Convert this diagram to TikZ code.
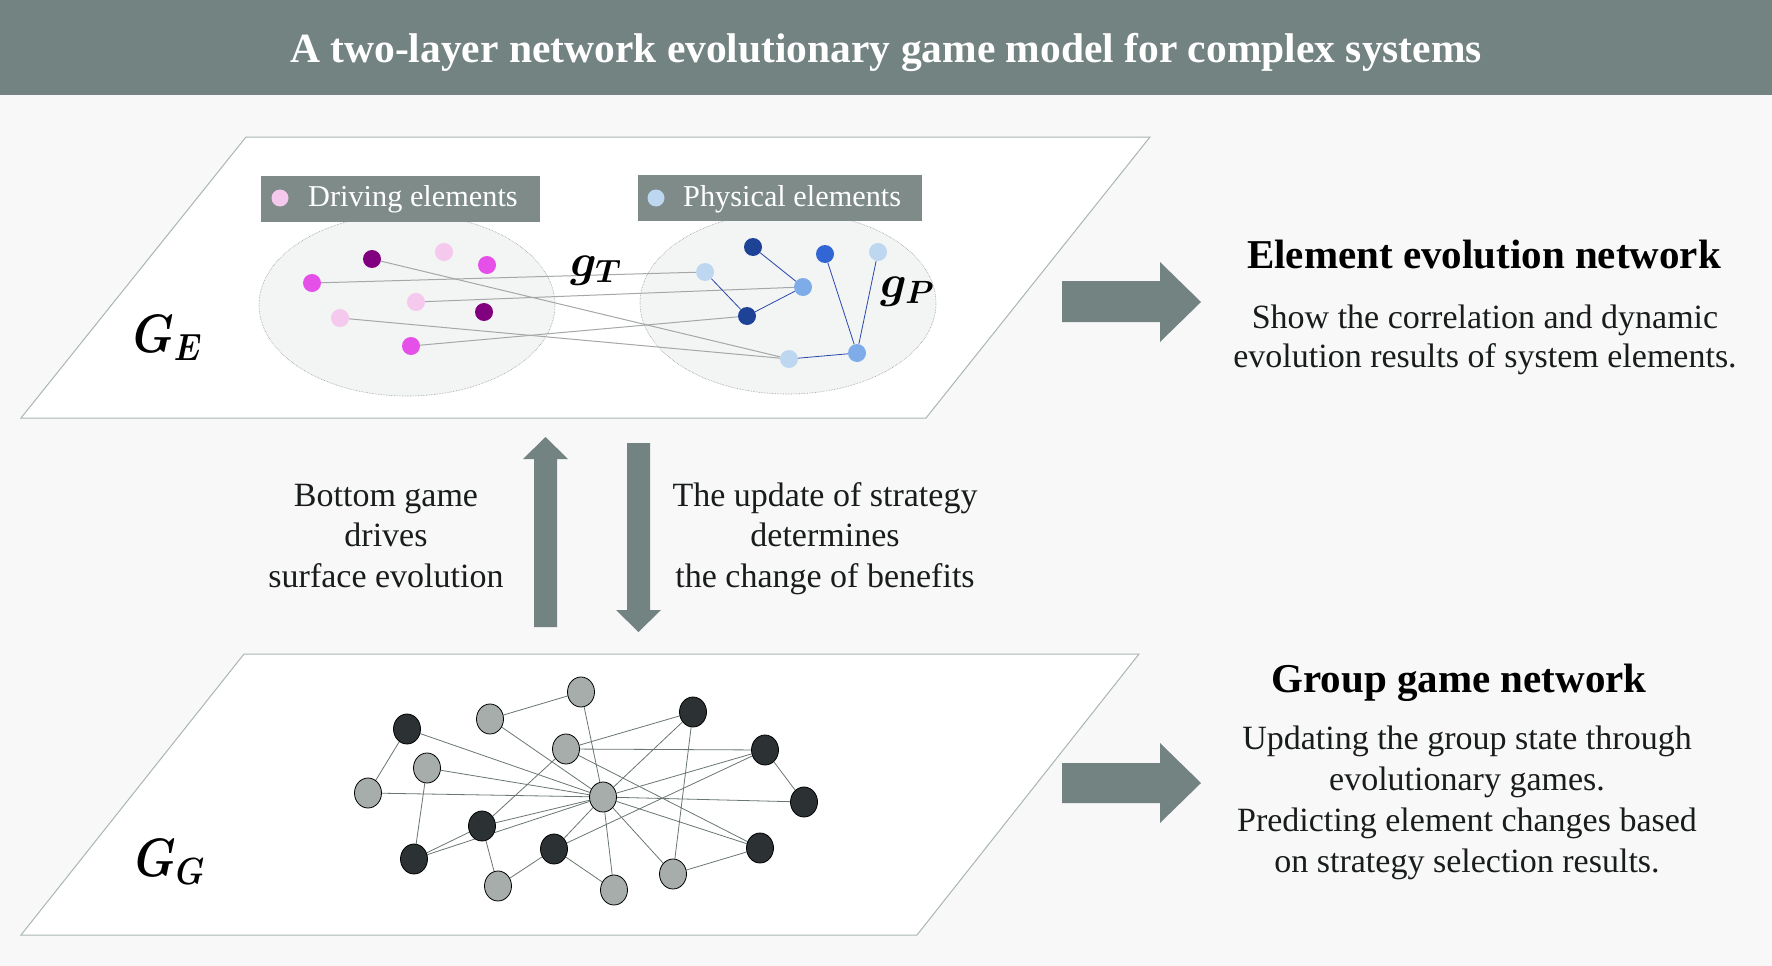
\RequirePackage{fix-cm}
\documentclass[tikz,border=0pt]{standalone}
\usepackage{fontspec}
\setmainfont{Liberation Serif}
\usepackage{graphicx}
\usepackage{tikz}
\usetikzlibrary{calc,positioning,shapes.geometric}

\definecolor{bargray}{RGB}{115,131,129}
\definecolor{boxgray}{RGB}{126,139,137}
\definecolor{paper}{RGB}{248,248,248}
\definecolor{planeedge}{RGB}{170,182,180}
\definecolor{blobfill}{RGB}{243,244,244}
\definecolor{blobedge}{RGB}{150,152,152}
\definecolor{purpledark}{RGB}{128,0,128}
\definecolor{pinklight}{RGB}{245,200,238}
\definecolor{magentamid}{RGB}{228,80,232}
\definecolor{bluelight}{RGB}{190,215,240}
\definecolor{bluemid}{RGB}{125,172,232}
\definecolor{bluestrong}{RGB}{50,102,212}
\definecolor{bluedark}{RGB}{30,66,150}
\definecolor{linkgray}{RGB}{165,168,168}
\definecolor{linkblue}{RGB}{40,72,170}
\definecolor{nodegray}{RGB}{166,173,171}
\definecolor{nodedark}{RGB}{44,50,52}
\definecolor{edgegray}{RGB}{105,118,114}
\definecolor{textdark}{RGB}{25,28,28}

\pgfdeclarelayer{planes}
\pgfdeclarelayer{links}
\pgfsetlayers{planes,links,main}

\tikzset{
  layer/.style={draw=planeedge, line width=1pt, fill=white},
  blob/.style={
    ellipse,
    draw=blobedge, densely dotted, line width=0.6pt,
    fill=blobfill,
    minimum width=296pt,
    minimum height=182pt},
  legendbox/.style={rectangle, fill=boxgray, minimum width=279pt, minimum height=46pt, inner sep=0pt},
  legendtext/.style={anchor=base west, text=white, font=\fontsize{30.3}{36}\selectfont, inner sep=0pt},
  elem/.style={circle, minimum size=18pt, inner sep=0pt},
  player/.style={ellipse, draw=black, line width=0.8pt, minimum width=27pt, minimum height=30pt, inner sep=0pt},
  lightp/.style={player, fill=nodegray},
  darkp/.style={player, fill=nodedark},
  tlink/.style={draw=linkgray, line width=1pt},
  plink/.style={draw=linkblue, line width=0.8pt},
  glink/.style={draw=edgegray, line width=0.8pt},
  blockarrow/.style={fill=bargray},
  heading/.style={anchor=base, font=\bfseries\fontsize{41}{48}\selectfont, text=black, inner sep=0pt},
  % base of a multi-line remark is the base of its last line
  remark/.style={anchor=base, font=\fontsize{34}{40}\selectfont, text=textdark, align=center, inner sep=0pt},
  layername/.style={anchor=base west, font=\fontsize{54}{60}\selectfont\boldmath, inner sep=0pt},
  linkname/.style={anchor=base west, font=\fontsize{46}{50}\selectfont\boldmath, inner sep=0pt},
}

\begin{document}
\begin{tikzpicture}[x=1pt, y=-1pt]

\begin{pgfonlayer}{planes}
  \fill[paper] (0,0) rectangle (1772,966);
  \fill[bargray] (0,0) rectangle (1772,95);
  \draw[layer] (246,137) -- (1150,137) -- (926,418) -- (21,418) -- cycle;
  \draw[layer] (244,654) -- (1139,654) -- (917,935) -- (21,935) -- cycle;
  \node[blob] (drvblob) at (407,305) {};
  \node[blob] (phyblob) at (788,303) {};
\end{pgfonlayer}
\useasboundingbox (0,0) rectangle (1772,966);

\node[anchor=base, text=white, font=\bfseries\fontsize{41.5}{48}\selectfont, inner sep=0pt] (title) at (886,63)
     {A two-layer network evolutionary game model for complex systems};

% element evolution network
\node[legendbox] (drvbox) at (400.5,199) {};
\node[legendbox, minimum width=284pt] (phybox) at (780,198) {};
\node[elem, fill=pinklight, minimum size=17pt] (drvkey) at (280,198) {};
\node[legendtext] (drvlabel) at (308,206) {Driving elements};
\node[elem, fill=bluelight, minimum size=17pt] (phykey) at (656,198) {};
\node[legendtext] (phylabel) at (683,206) {Physical elements};

\node[elem, fill=purpledark] (d1) at (372,259) {};
\node[elem, fill=pinklight] (d2) at (444,252) {};
\node[elem, fill=magentamid] (d3) at (487,265) {};
\node[elem, fill=magentamid] (d4) at (312,283) {};
\node[elem, fill=pinklight] (d5) at (416,302) {};
\node[elem, fill=purpledark] (d6) at (484,312) {};
\node[elem, fill=pinklight] (d7) at (340,318) {};
\node[elem, fill=magentamid] (d8) at (411,346) {};

\node[elem, fill=bluelight] (p1) at (705,272) {};
\node[elem, fill=bluedark] (p2) at (753,247) {};
\node[elem, fill=bluemid] (p3) at (803,287) {};
\node[elem, fill=bluedark] (p4) at (747,316) {};
\node[elem, fill=bluestrong] (p5) at (825,254) {};
\node[elem, fill=bluelight] (p6) at (878,252) {};
\node[elem, fill=bluelight] (p7) at (789,359) {};
\node[elem, fill=bluemid] (p8) at (857,353) {};

\node[linkname] (gtname) at (570,276) {$g_T$};
\node[linkname] (gpname) at (880,297) {$g_P$};
\node[layername] (gename) at (133,352) {\scalebox{0.85}[1]{$G_E$}};

\begin{pgfonlayer}{links}
  \draw[tlink] (d4) -- (p1);
  \draw[tlink] (d1) -- (p7);
  \draw[tlink] (d5) -- (p3);
  \draw[tlink] (d7) -- (p7);
  \draw[tlink] (d8) -- (p4);
  \draw[plink] (p1) -- (p4);
  \draw[plink] (p2) -- (p3);
  \draw[plink] (p4) -- (p3);
  \draw[plink] (p5) -- (p8);
  \draw[plink] (p6) -- (p8);
  \draw[plink] (p7) -- (p8);
\end{pgfonlayer}

% group game network
\node[lightp] (g1) at (581,692) {};
\node[lightp] (g2) at (490,719) {};
\node[darkp] (g3) at (407,729) {};
\node[lightp] (g4) at (566,749) {};
\node[darkp] (g5) at (693,712) {};
\node[darkp] (g6) at (765,750) {};
\node[lightp] (g7) at (427,768) {};
\node[lightp] (g8) at (368,793) {};
\node[lightp] (hub) at (603,797) {};
\node[darkp] (g10) at (804,802) {};
\node[darkp] (g11) at (482,826) {};
\node[darkp] (g12) at (414,859) {};
\node[darkp] (g13) at (554,849) {};
\node[darkp] (g14) at (760,848) {};
\node[lightp] (g15) at (673,874) {};
\node[lightp] (g16) at (498,886) {};
\node[lightp] (g17) at (614,890) {};

\node[layername] (ggname) at (135,876) {\scalebox{0.85}[1]{$G_G$}};

\begin{pgfonlayer}{links}
  \draw[glink] (g2) -- (g1);
  \draw[glink] (g3) -- (g8);
  \draw[glink] (g3) -- (hub);
  \draw[glink] (g2) -- (hub);
  \draw[glink] (g1) -- (hub);
  \draw[glink] (hub) -- (g17);
  \draw[glink] (g4) -- (g5);
  \draw[glink] (g4) -- (g6);
  \draw[glink] (g4) -- (g14);
  \draw[glink] (g4) -- (g11);
  \draw[glink] (g5) -- (hub);
  \draw[glink] (g5) -- (g15);
  \draw[glink] (g7) -- (hub);
  \draw[glink] (g7) -- (g12);
  \draw[glink] (g8) -- (hub);
  \draw[glink] (hub) -- (g10);
  \draw[glink] (hub) -- (g6);
  \draw[glink] (g13) -- (g6);
  \draw[glink] (g6) -- (g10);
  \draw[glink] (hub) -- (g15);
  \draw[glink] (hub) -- (g14);
  \draw[glink] (g15) -- (g14);
  \draw[glink] (g13) -- (hub);
  \draw[glink] (g13) -- (g16);
  \draw[glink] (g13) -- (g17);
  \draw[glink] (g11) -- (g16);
  \draw[glink] (g12) -- (g11);
  \draw[glink] (g12) -- (hub);
  \draw[glink] (g11) -- (hub);
\end{pgfonlayer}

% arrows between the layers and to the texts
\fill[blockarrow] (534,627) -- (534,459) -- (523,459) -- (545.5,437) -- (568,459) -- (557,459) -- (557,627) -- cycle;
\fill[blockarrow] (627,443) -- (650,443) -- (650,610) -- (661,610) -- (638.5,632) -- (616,610) -- (627,610) -- cycle;
\fill[blockarrow] (1062,281) -- (1160,281) -- (1160,262) -- (1201,302) -- (1160,342) -- (1160,322) -- (1062,322) -- cycle;
\fill[blockarrow] (1062,763) -- (1160,763) -- (1160,743) -- (1201,783) -- (1160,823) -- (1160,803) -- (1062,803) -- cycle;

\node[remark, font=\fontsize{34}{40.5}\selectfont] (upnote) at (386,587)
     {Bottom game\\drives\\surface evolution};
\node[remark, font=\fontsize{34}{40.5}\selectfont] (downnote) at (825,587)
     {The update of strategy\\determines\\the change of benefits};

\node[heading] (elemhead) at (1484,268) {Element evolution network};
\node[remark, font=\fontsize{34}{39}\selectfont] (elemnote) at (1485,367)
     {Show the correlation and dynamic\\evolution results of system elements.};
\node[heading] (grouphead) at (1459,692) {Group game network};
\node[remark, font=\fontsize{34}{40.7}\selectfont] (groupnote) at (1467,872)
     {Updating the group state through\\evolutionary games.\\Predicting element changes based\\on strategy selection results.};

\end{tikzpicture}
\end{document}
